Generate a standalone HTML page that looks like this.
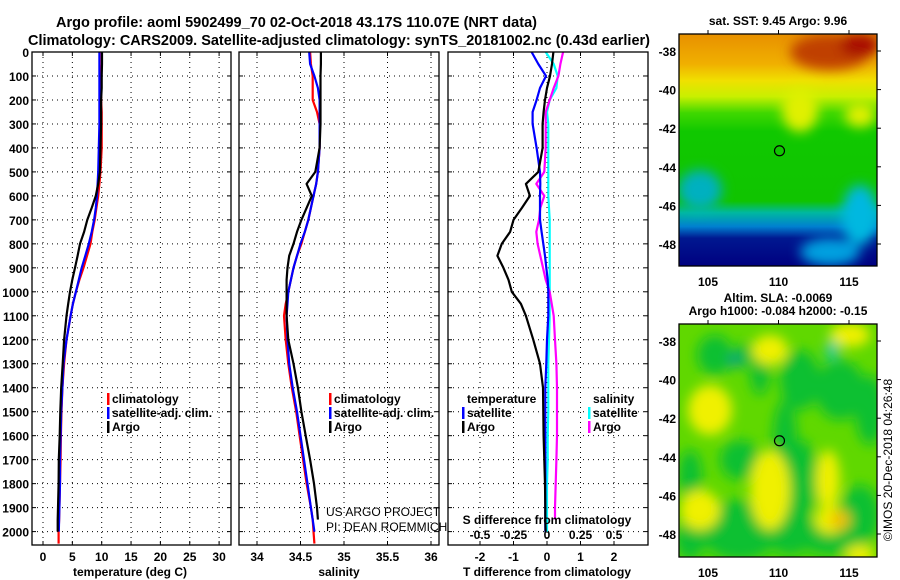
<!DOCTYPE html>
<html><head><meta charset="utf-8"><style>
body{margin:0;background:#fff;}
svg{display:block;font-family:"Liberation Sans",sans-serif;}
.b{font-weight:bold;font-size:12px;}
</style></head><body>
<svg id="chart" width="900" height="580" viewBox="0 0 900 580" xmlns="http://www.w3.org/2000/svg">
<defs>
<linearGradient id="sstg" x1="0" y1="0" x2="0" y2="1">
<stop offset="0" stop-color="#e89000"/><stop offset="0.13" stop-color="#f0b000"/><stop offset="0.2" stop-color="#f0e000"/><stop offset="0.27" stop-color="#c8f000"/><stop offset="0.34" stop-color="#40d800"/><stop offset="0.42" stop-color="#10c800"/><stop offset="0.72" stop-color="#10c400"/><stop offset="0.77" stop-color="#00b8a0"/><stop offset="0.83" stop-color="#0080d0"/><stop offset="0.88" stop-color="#001890"/><stop offset="1" stop-color="#000080"/>
</linearGradient>
<filter id="blur" x="-50%" y="-50%" width="200%" height="200%"><feGaussianBlur stdDeviation="6"/></filter>
<clipPath id="m1c"><rect x="679" y="34" width="198" height="232"/></clipPath>
<clipPath id="m2c"><rect x="679" y="324" width="198" height="233"/></clipPath>
</defs>
<text x="56" y="27" font-size="15" font-weight="bold" textLength="481" lengthAdjust="spacingAndGlyphs">Argo profile: aoml 5902499_70 02-Oct-2018 43.17S 110.07E (NRT data)</text>
<text x="28" y="45" font-size="15" font-weight="bold" textLength="622" lengthAdjust="spacingAndGlyphs">Climatology: CARS2009. Satellite-adjusted climatology: synTS_20181002.nc (0.43d earlier)</text>
<g id="plots"></g>
<g id="maps"></g>
<text transform="translate(892,460) rotate(-90)" text-anchor="middle" font-size="12">©IMOS 20-Dec-2018 04:26:48</text>
</svg>
<script>
const depths=[0,50,100,150,200,250,300,400,500,550,600,650,700,750,800,850,900,950,1000,1050,1100,1200,1300,1400,1500,1600,1700,1800,1900,1950,2000,2050];
const tClim=[10,10,9.9,9.9,9.9,10,10,10,9.8,9.6,9.4,9.1,8.8,8.4,8.1,7.5,6.9,6.2,5.6,5.1,4.7,4.0,3.6,3.3,3.15,3.05,3.0,2.9,2.8,2.75,2.65,2.65];
const tSat=[9.6,9.6,9.6,9.6,9.6,9.6,9.6,9.5,9.4,9.3,9.2,9.0,8.7,8.3,7.8,7.2,6.6,6.1,5.6,5.1,4.7,4.0,3.5,3.3,3.1,3.0,2.9,2.9,2.8,2.75,2.7,null];
const tArgo=[10.05,10.05,10,10,9.9,9.9,9.9,9.8,9.7,9.4,9.0,8.3,7.55,7.0,6.3,5.9,5.45,5.0,4.6,4.3,4.0,3.6,3.35,3.1,2.95,2.85,2.7,2.65,2.55,2.5,2.5,null];
const sClim=[34.61,34.62,34.64,34.64,34.64,34.69,34.72,34.72,34.70,34.68,34.65,34.62,34.59,34.55,34.51,34.46,34.42,34.39,34.36,34.33,34.31,34.33,34.36,34.40,34.45,34.49,34.53,34.57,34.62,34.64,34.65,34.66];
const sSat=[34.60,34.61,34.66,34.70,34.72,34.72,34.72,34.72,34.70,34.68,34.65,34.62,34.59,34.55,34.50,34.46,34.42,34.39,34.36,34.35,34.34,34.35,34.37,34.41,34.46,34.50,34.54,34.58,34.62,34.64,34.66,null];
const sArgo=[34.735,34.735,34.73,34.73,34.73,34.73,34.73,34.72,34.67,34.57,34.63,34.57,34.51,34.46,34.42,34.37,34.35,34.34,34.34,34.34,34.34,34.36,34.42,34.47,34.51,34.56,34.61,34.655,34.69,34.70,null,null];
const dtSat=[-0.46,-0.26,-0.03,-0.21,-0.31,-0.43,-0.43,-0.31,-0.21,-0.2,-0.21,-0.21,-0.21,-0.16,-0.11,-0.06,-0.02,0.02,0.04,0.04,0.04,0.0,-0.02,-0.05,-0.05,-0.05,-0.05,-0.05,-0.05,-0.05,-0.05,null];
const dtArgo=[0.19,0.15,0.09,0.0,-0.06,-0.1,-0.13,-0.13,-0.26,-0.63,-0.51,-0.75,-1.0,-1.1,-1.35,-1.48,-1.3,-1.15,-1.05,-0.78,-0.63,-0.41,-0.21,-0.12,-0.11,-0.1,-0.08,-0.06,-0.05,-0.05,-0.04,null];
const dsSat=[-0.01,0.05,0.08,0.07,0.02,0.0,0.01,0.01,0.01,0.01,0.01,0.015,0.02,0.02,0.02,0.02,0.02,0.02,0.02,0.02,0.02,0.015,0.01,0.01,0.01,0.005,0.005,0.0,0.0,0.0,0.0,null];
const dsArgo=[0.12,0.1,0.085,0.05,0.02,-0.01,-0.01,-0.01,-0.02,-0.08,-0.02,-0.05,-0.06,-0.08,-0.07,-0.05,-0.03,-0.01,0.02,0.035,0.05,0.06,0.07,0.075,0.075,0.075,0.07,0.065,0.06,0.06,null,null];
const depthTicks=[0,100,200,300,400,500,600,700,800,900,1000,1100,1200,1300,1400,1500,1600,1700,1800,1900,2000];
const tTicks=[0,5,10,15,20,25,30];
const sTicks=[34,34.5,35,35.5,36];
const sTickLabels=["34","34.5","35","35.5","36"];
const dTTicks=[-2,-1,0,1,2];
const dSTicks=[-0.5,-0.25,0,0.25,0.5];
const dSTickLabels=["-0.5","-0.25","0","0.25","0.5"];
const latTicks=[-38,-40,-42,-44,-46,-48];
const lonTicks=[105,110,115];
const argoLon=110.07, argoLat=-43.17;

const NS='http://www.w3.org/2000/svg';
const top0=52,bot=545;
const yD=d=>top0+d*0.2398;
const P1={l:32,r:231},P2={l:239,r:439},P3={l:448,r:648};
const xT=v=>43+v*5.87;
const xS=v=>257+(v-34)*87;
const xDT=v=>547+v*33.5;
const xDS=v=>547+v*134;
const g=document.getElementById('plots');
function el(tag,attrs,parent,txt){const e=document.createElementNS(NS,tag);for(const k in attrs)e.setAttribute(k,attrs[k]);if(txt!==undefined)e.textContent=txt;(parent||g).appendChild(e);return e;}
function line(vals,xf,color,name){let d='';let started=false;
  for(let i=0;i<depths.length;i++){if(vals[i]==null)continue;const x=xf(vals[i]),y=yD(depths[i]);d+=(started?'L':'M')+x.toFixed(1)+','+y.toFixed(1);started=true;}
  const p=el('path',{d:d,fill:'none',stroke:color,'stroke-width':2.2,'stroke-linejoin':'round'});
  
  }
function panel(P,name){
  const fr=el('rect',{x:P.l,y:top0,width:P.r-P.l,height:bot-top0,fill:'#fff',stroke:'none'});
  
  
  depthTicks.forEach(d=>{const y=yD(d);el('line',{x1:P.l,x2:P.r,y1:y,y2:y,stroke:'#000','stroke-width':1,'stroke-dasharray':'1,4'});
    el('line',{x1:P.l,x2:P.l+4,y1:y,y2:y,stroke:'#000'});el('line',{x1:P.r-4,x2:P.r,y1:y,y2:y,stroke:'#000'});});
}
function frame(P,name){const f=el('rect',{x:P.l,y:top0,width:P.r-P.l,height:bot-top0,fill:'none',stroke:'#000','stroke-width':1.3});
  
  }
function vgrid(P,ticks,xf,labels,ly){ticks.forEach((t,i)=>{const x=xf(t);
  el('line',{x1:x,x2:x,y1:top0,y2:bot,stroke:'#000','stroke-dasharray':'1,4'});
  el('line',{x1:x,x2:x,y1:bot-4,y2:bot,stroke:'#000'});el('line',{x1:x,x2:x,y1:top0,y2:top0+4,stroke:'#000'});
  if(labels){const t2=el('text',{x:x,y:ly,'text-anchor':'middle',class:'b','font-size':13},g,labels[i]);
    
    }});}
panel(P1,'temperature-panel');panel(P2,'salinity-panel');panel(P3,'difference-panel');
vgrid(P1,tTicks,xT,tTicks.map(String),561);
vgrid(P2,sTicks,xS,sTickLabels,561);
vgrid(P3,dTTicks,xDT,dTTicks.map(String),561);
dSTicks.forEach((t,i)=>{const tx=el('text',{x:xDS(t),y:539,'text-anchor':'middle',class:'b','font-size':12},g,dSTickLabels[i]);
  
  });
depthTicks.forEach(d=>{const t=el('text',{x:29,y:yD(d)+5,'text-anchor':'end',class:'b','font-size':13},g,String(d));
  
  });
line(tClim,xT,'#ff0000','temp-climatology-line');
line(tSat,xT,'#0000ff','temp-satellite-line');
line(tArgo,xT,'#000000','temp-argo-line');
line(sClim,xS,'#ff0000','sal-climatology-line');
line(sSat,xS,'#0000ff','sal-satellite-line');
line(sArgo,xS,'#000000','sal-argo-line');
line(dsSat,xDS,'#00ffff','sdiff-satellite-line');
line(dsArgo,xDS,'#ff00ff','sdiff-argo-line');
line(dtSat,xDT,'#0000ff','tdiff-satellite-line');
line(dtArgo,xDT,'#000000','tdiff-argo-line');
frame(P1,'temperature-panel');frame(P2,'salinity-panel');frame(P3,'difference-panel');
function legend(x,y,items,name){items.forEach((it,i)=>{const yy=y+i*14;
  if(it[1]){const m=el('rect',{x:x,y:yy-10,width:2.5,height:12,fill:it[1]});}
  const t=el('text',{x:x+5,y:yy,class:'b','font-size':12.5},g,it[0]);
  
  });}
legend(107,403,[['climatology','#ff0000'],['satellite-adj. clim.','#0000ff'],['Argo','#000']],'temp-legend');
legend(329,403,[['climatology','#ff0000'],['satellite-adj. clim.','#0000ff'],['Argo','#000']],'sal-legend');
legend(462,403,[['temperature',null],['satellite','#0000ff'],['Argo','#000']],'tdiff-legend');
legend(588,403,[['salinity',null],['satellite','#00ffff'],['Argo','#ff00ff']],'sdiff-legend');
[['US ARGO PROJECT',516],['PI: DEAN ROEMMICH',531]].forEach(a=>{const t=el('text',{x:326,y:a[1],'font-size':12},g,a[0]);
  
  });
const sdl=el('text',{x:547,y:524,'text-anchor':'middle',class:'b','font-size':12.5},g,'S difference from climatology');


[['temperature (deg C)',130],['salinity',339],['T difference from climatology',547]].forEach(a=>{const t=el('text',{x:a[1],y:576,'text-anchor':'middle',class:'b','font-size':13},g,a[0]);
  
  });

const mg=document.getElementById('maps');
const lonX=v=>679.8+(v-103)*14.1;
function map(y0,latY,clip,kind,titles){
  const gg=el('g',{'clip-path':'url(#'+clip+')'},mg);
  
  
  if(kind==='sst'){
    el('rect',{x:679,y:y0,width:198,height:232,fill:'url(#sstg)'},gg);
    const bl=el('g',{filter:'url(#blur)'},gg);
    el('ellipse',{cx:830,cy:52,rx:40,ry:18,fill:'#c04000'},bl);
    el('ellipse',{cx:860,cy:45,rx:20,ry:12,fill:'#a81000'},bl);
    el('ellipse',{cx:800,cy:110,rx:18,ry:22,fill:'#e0f000'},bl);
    el('ellipse',{cx:860,cy:115,rx:15,ry:12,fill:'#e0f000'},bl);
    el('ellipse',{cx:700,cy:190,rx:22,ry:20,fill:'#00b0c0'},bl);
    el('ellipse',{cx:860,cy:215,rx:18,ry:30,fill:'#00b8e0'},bl);
    el('ellipse',{cx:830,cy:252,rx:30,ry:14,fill:'#00a0e0'},bl);
  } else {
    el('rect',{x:679,y:y0,width:198,height:233,fill:'#60d800'},gg);
    const bl=el('g',{filter:'url(#blur)'},gg);
    const greens=[[715,355,18,20],[745,355,10,12],[760,370,10,25],[800,380,20,30],[840,390,25,30],[870,410,15,35],[785,440,12,40],[800,480,18,40],[740,460,20,20],[690,475,12,25],[690,540,15,20],[740,530,40,30],[790,530,25,25],[860,515,20,30],[830,540,30,15]];
    greens.forEach(b=>el('ellipse',{cx:b[0],cy:b[1],rx:b[2],ry:b[3],fill:'#10c030'},bl));
    const yell=[[710,410,22,25],[770,350,18,15],[770,490,20,40],[700,510,20,20],[850,335,20,12],[828,480,12,30],[830,520,15,14],[860,555,15,10]];
    yell.forEach(b=>el('ellipse',{cx:b[0],cy:b[1],rx:b[2],ry:b[3],fill:'#f0f000'},bl));
    el('ellipse',{cx:840,cy:520,rx:10,ry:10,fill:'#f0c000'},bl);
    el('ellipse',{cx:735,cy:360,rx:6,ry:8,fill:'#10a080'},bl);
    el('ellipse',{cx:832,cy:350,rx:6,ry:9,fill:'#00c8c0'},bl);
  }
  const fr=el('rect',{x:679,y:y0,width:198,height:(kind==='sst'?232:233),fill:'none',stroke:'#000','stroke-width':1.3},mg);
  
  
  const bY=y0+(kind==='sst'?232:233);
  latTicks.forEach(l=>{const y=latY(l);el('line',{x1:877,x2:881,y1:y,y2:y,stroke:'#000'},mg);
    const t=el('text',{x:676,y:y+5,'text-anchor':'end',class:'b','font-size':13},mg,String(l));
    
    });
  lonTicks.forEach(l=>{const x=lonX(l);el('line',{x1:x,x2:x,y1:y0-4,y2:y0,stroke:'#000'},mg);
    const t=el('text',{x:x,y:bY+20,'text-anchor':'middle',class:'b','font-size':13},mg,String(l));
    
    });
  const c=el('circle',{cx:lonX(argoLon),cy:latY(argoLat),r:5,fill:'none',stroke:'#000','stroke-width':1.2},mg);
  
  
  titles.forEach(tt=>{const t=el('text',{x:778,y:tt[1],'text-anchor':'middle',class:'b','font-size':12.5},mg,tt[0]);
    
    });
}
map(34,l=>51+(-38-l)*19.3,'m1c','sst',[['sat. SST: 9.45 Argo: 9.96',25]]);
map(324,l=>341+(-38-l)*19.3,'m2c','sla',[['Altim. SLA: -0.0069',302],['Argo h1000: -0.084 h2000: -0.15',315]]);
</script>
</body></html>
